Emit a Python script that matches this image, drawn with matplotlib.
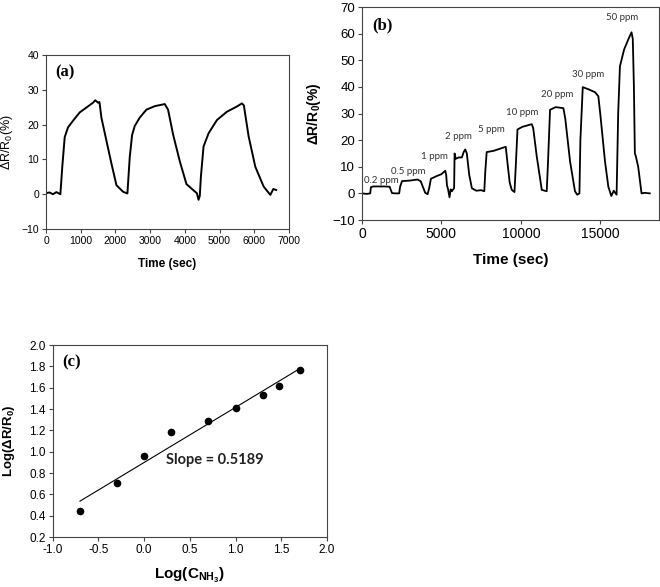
# NH3 sensor response: repeatability (a), concentration steps (b), log-log fit (c)
import numpy as np
import matplotlib
matplotlib.use('Agg')
from matplotlib import pyplot as plt

# --- panel (a): three cycles
t_a = [0, 100, 200, 300, 414, 470, 539, 634, 778, 971, 1164, 1355, 1420, 1499, 1540,
       1596, 1740, 1885, 2029, 2219, 2345, 2412, 2480, 2556, 2700, 2893, 3133, 3421,
       3516, 3660, 3853, 4046, 4250, 4346, 4394, 4430, 4462, 4538, 4683, 4923, 5211,
       5500, 5644, 5700, 5837, 6029, 6269, 6461, 6550, 6630]
r_a = [0.3, 0.5, 0, 0.6, 0, 8, 16.4, 19.2, 21.1, 23.5, 24.9, 26.3, 27, 26.3, 26.5,
       22, 15.4, 8.8, 2.6, 0.7, 0.2, 10.6, 17, 19.6, 22, 24.3, 25.3, 25.9,
       24.3, 17.2, 9.5, 2.9, 1.1, 0.3, -1.6, -0.5, 5, 13.7, 17.5, 21.3, 23.7,
       25.2, 26.1, 25.5, 16.6, 7.9, 2.2, -0.2, 1.5, 1.2]

# --- panel (b): step exposure 0.2 .. 50 ppm
t_b = [0, 300, 520, 560, 700, 1000, 1400, 1740, 1800, 1890, 2100, 2340, 2400, 2520,
       3000, 3500, 3700, 3980, 4130, 4230, 4340, 4700, 5000, 5240, 5300, 5350, 5420,
       5510, 5580, 5660, 5800, 5830, 5900, 6100, 6290, 6400, 6500, 6600, 6750, 6920,
       7200, 7500, 7700, 7760, 7850, 8300, 8800, 9050, 9150, 9300, 9430, 9600, 9680,
       9790, 10100, 10400, 10690, 10780, 11000, 11320, 11630, 11700, 11840, 12200,
       12680, 12800, 13100, 13410, 13550, 13690, 13750, 13900, 14300, 14670, 14880,
       15000, 15300, 15510, 15700, 15850, 16030, 16130, 16240, 16500, 16800, 16970,
       17050, 17120, 17180, 17240, 17390, 17600, 17800, 18120]
r_b = [0, -0.2, 0, 2.3, 2.6, 2.6, 2.6, 2.5, 1.5, 0.1, 0, 0, 2.5, 4.6,
       4.8, 5.2, 4.5, 0.2, -0.3, 2.0, 5.5, 6.5, 7.2, 8.5, 7.0, 3.0, 1.5,
       -1.5, 1.5, 0.8, 2.0, 15.0, 13.0, 13.5, 13.5, 15.5, 16.5, 15.0, 7.0, 1.9,
       1.0, 1.2, 0.8, 8.0, 15.5, 16.0, 17.0, 17.5, 12.0, 4.0, 1.3, 0.5, 10.0,
       24.0, 25.0, 25.5, 26.0, 24.5, 14.0, 1.3, 0.8, 10.0, 31.4, 32.4,
       32.0, 28.0, 12.0, 0.8, -0.5, 0, 20.0, 39.9, 39.0, 38.0, 36.5,
       30.0, 12.0, 2.5, -1.0, 1.0, -0.5, 30.0, 47.7, 54.0, 58.3, 60.5,
       58.0, 40.0, 15.0, 14.0, 10.0, 0, 0.2, 0]

ppm_labels = ['0.2 ppm', '0.5 ppm', '1 ppm', '2 ppm', '5 ppm', '10 ppm', '20 ppm', '30 ppm', '50 ppm']
ppm_x = [1195, 2934, 4550, 6078, 8174, 10060, 12262, 14253, 16390]
ppm_y = [5.0, 8.2, 14.0, 21.3, 24.1, 30.4, 37.3, 44.5, 65.9]

# --- panel (c): log response vs log concentration
log_c = [-0.70, -0.30, 0.0, 0.30, 0.70, 1.0, 1.30, 1.48, 1.70]
log_r = [0.447, 0.706, 0.964, 1.18, 1.283, 1.414, 1.535, 1.619, 1.769]

W, H = 660, 587
fig = plt.figure(figsize=(W / 100, H / 100), dpi=100)
frame = '#444444'


def px_axes(x0, y0, x1, y1):
    # pixel box (top-left origin) -> figure axes
    return fig.add_axes([x0 / W, 1 - y1 / H, (x1 - x0) / W, (y1 - y0) / H])


def style(ax, size):
    for s in ax.spines.values():
        s.set_color(frame)
        s.set_linewidth(0.8)
    ax.tick_params(direction='out', length=3, width=0.8, color=frame,
                   labelsize=size, top=False, right=False, pad=2)


sans = ['Liberation Sans', 'DejaVu Sans']
serif = ['Liberation Serif', 'DejaVu Serif']
plt.rcParams['font.family'] = sans
plt.rcParams['mathtext.fontset'] = 'custom'
plt.rcParams['mathtext.rm'] = 'Liberation Sans'
plt.rcParams['mathtext.bf'] = 'Liberation Sans:bold'

# (a)
ax = px_axes(46, 55, 289, 229)
ax.plot(t_a, r_a, color='black', lw=1.4)
ax.set_xlim(0, 7000)
ax.set_ylim(-10, 40)
ax.set_xticks(range(0, 7001, 1000))
ax.set_yticks(range(-10, 41, 10))
style(ax, 7.5)
ax.set_xlabel('Time (sec)', fontsize=8.5, fontweight='bold')
ax.set_ylabel(r'$\Delta$R/R$_0$(%)', fontsize=9)
ax.xaxis.set_label_coords(0.5, -0.165)
ax.yaxis.set_label_coords(-0.128, 0.5)
ax.text(0.04, 0.90, '(a)', transform=ax.transAxes, family=serif, fontweight='bold',
        fontsize=12, va='center')

# (b)
ax = px_axes(362, 7, 659, 220)
ax.plot(t_b, r_b, color='black', lw=1.3)
ax.set_xlim(0, 18700)
ax.set_ylim(-10, 70)
ax.set_xticks([0, 5000, 10000, 15000])
ax.set_yticks(range(-10, 71, 10))
style(ax, 9.5)
ax.tick_params(axis='x', labelsize=10)
ax.set_xlabel('Time (sec)', fontsize=11, fontweight='bold')
ax.set_ylabel(r'$\mathbf{\Delta R/R_0(\%)}$', fontsize=10)
ax.xaxis.set_label_coords(0.5, -0.155)
ax.yaxis.set_label_coords(-0.132, 0.5)
ax.text(0.033, 0.915, '(b)', transform=ax.transAxes, family=serif, fontweight='bold',
        fontsize=12, va='center')
for lab, x, y in zip(ppm_labels, ppm_x, ppm_y):
    ax.text(x, y, lab, family=['Lato', 'DejaVu Sans'], fontsize=7, color='#333333',
            ha='center', va='center')

# (c)
ax = px_axes(52.5, 345, 327, 537)
slope, icpt = np.polyfit(log_c, log_r, 1)
xf = np.array([log_c[0], log_c[-1]])
ax.plot(xf, slope * xf + icpt, color='black', lw=0.8)
ax.plot(log_c, log_r, 'o', color='black', ms=4.5)
ax.set_xlim(-1.0, 2.0)
ax.set_ylim(0.2, 2.0)
ax.set_xticks(np.arange(-1.0, 2.01, 0.5))
ax.set_yticks(np.arange(0.2, 2.01, 0.2))
ax.xaxis.set_major_formatter(matplotlib.ticker.FormatStrFormatter('%.1f'))
ax.yaxis.set_major_formatter(matplotlib.ticker.FormatStrFormatter('%.1f'))
style(ax, 8.5)
ax.set_xlabel(r'$\mathbf{Log(C_{NH_3})}$', fontsize=11)
ax.set_ylabel(r'$\mathbf{Log(\Delta R/R_0)}$', fontsize=9.5)
ax.xaxis.set_label_coords(0.5, -0.15)
ax.yaxis.set_label_coords(-0.129, 0.5)
ax.text(0.034, 0.91, '(c)', transform=ax.transAxes, family=serif, fontweight='bold',
        fontsize=12, va='center')
ax.text(0.24, 0.92, 'Slope = 0.5189', family=['Lato', 'DejaVu Sans'], fontweight='bold',
        fontsize=10.5, color='#222222', va='center')

fig.savefig('out.png', dpi=100)
